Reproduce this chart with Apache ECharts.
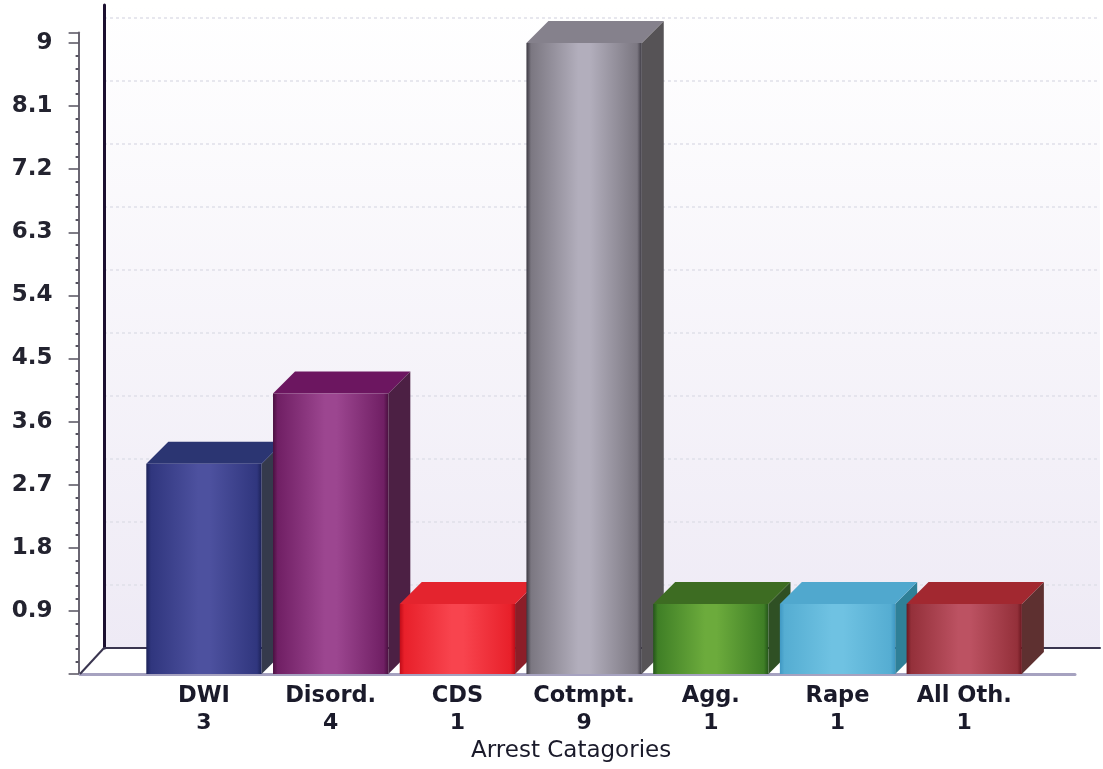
<!DOCTYPE html>
<html><head><meta charset="utf-8">
<style>html,body{margin:0;padding:0;background:#fff}#c{width:1103px;height:769px}</style>
<script src="https://cdn.jsdelivr.net/npm/echarts@6/dist/echarts.min.js"></script>
</head><body><div id="c"></div>
<script>
const categories = ['DWI','Disord.','CDS','Cotmpt.','Agg.','Rape','All Oth.'];
const values = [3,4,1,9,1,1,1];
const frontDark = ['#1c2258','#4a1040','#c00c18','#3c3942','#24541a','#3f98c4','#6a1820'];
const frontEdge = ['#30367e','#701f64','#e8202a','#7b7781','#3f7f26','#55add2','#94303a'];
const frontMid  = ['#4d519f','#9c4690','#f8444e','#b2aebc','#6cab3c','#6fc2e2','#bc5262'];
const topColors = ['#2b3572','#6c1660','#e4242e','#85818c','#3d6c22','#50a8ce','#a22830'];
const sideColors= ['#353a4c','#4c2044','#8c1e28','#565356','#2f5024','#2f8098','#5e3030'];
const depthX = 22, depthY = 22;
const fontFamily = '"DejaVu Sans", Verdana, sans-serif';

const chart = echarts.init(document.getElementById('c'), null, {renderer:'canvas'});

function renderBar(params, api){
  const i = api.value(0), v = api.value(1);
  const top = api.coord([i, v]);
  const base = api.coord([i, 0]);
  const w = api.size([1,0])[0] * 0.91;
  const x0 = top[0] - w/2, x1 = top[0] + w/2, y0 = top[1], y1 = base[1];
  const front = new echarts.graphic.LinearGradient(0,0,1,0,[
    {offset:0,color:frontDark[i]},{offset:0.04,color:frontEdge[i]},
    {offset:0.45,color:frontMid[i]},{offset:0.55,color:frontMid[i]},
    {offset:0.96,color:frontEdge[i]},{offset:1,color:frontDark[i]}]);
  return {type:'group',children:[
    {type:'polygon',shape:{points:[[x1,y0],[x1+depthX,y0-depthY],[x1+depthX,y1-depthY],[x1,y1]]},style:{fill:sideColors[i]}},
    {type:'polygon',shape:{points:[[x0,y0],[x0+depthX,y0-depthY],[x1+depthX,y0-depthY],[x1,y0]]},style:{fill:topColors[i]}},
    {type:'rect',shape:{x:x0,y:y0,width:w,height:y1-y0},style:{fill:front}}
  ]};
}

chart.setOption({
  animation:false,
  backgroundColor:'#fff',
  grid:[
    {left:140.6,width:887,top:32.5,bottom:95,containLabel:false},
    {left:104,right:3,top:5,bottom:121,show:true,borderWidth:0,
      backgroundColor:new echarts.graphic.LinearGradient(0,0,0,1,[{offset:0,color:'#ffffff'},{offset:1,color:'#eeeaf5'}])},
    {left:80,right:28,top:32.5,bottom:95}
  ],
  xAxis:[
    {type:'category',gridIndex:0,data:categories,axisLine:{show:false},axisTick:{show:false},
      axisLabel:{margin:9,interval:0,color:'#1a1a2a',
        formatter:(n,i)=>`{a|${n}}\n{b|${values[i]}}`,
        rich:{a:{fontFamily,fontWeight:'bold',fontSize:22.5,lineHeight:27,color:'#1a1a2a'},
              b:{fontFamily,fontWeight:'bold',fontSize:22,lineHeight:26,color:'#1a1a2a'}}},
      name:'Arrest Catagories',nameLocation:'middle',nameGap:66,
      nameTextStyle:{fontFamily,fontSize:23,color:'#1a1a2a',padding:[0,26,0,0]}},
    {type:'value',gridIndex:1,min:0,max:1,axisLabel:{show:false},axisTick:{show:false},splitLine:{show:false},
      axisLine:{show:true,lineStyle:{color:'#3a3550',width:2}}},
    {type:'value',gridIndex:2,min:0,max:1,axisLabel:{show:false},axisTick:{show:false},splitLine:{show:false},
      axisLine:{show:true,lineStyle:{color:'#a6a2c0',width:3}}}
  ],
  yAxis:[
    {type:'value',gridIndex:0,min:0,max:9.15,interval:0.9,offset:62,
      axisLine:{show:true,lineStyle:{color:'#6a6672',width:2}},
      axisTick:{show:true,length:10,lineStyle:{color:'#55525f',width:1.5}},
      minorTick:{show:true,splitNumber:5,length:3,lineStyle:{color:'#55525f',width:2}},
      splitLine:{show:false},
      axisLabel:{showMaxLabel:false,showMinLabel:false,margin:26,fontFamily,fontWeight:'bold',fontSize:23,color:'#23232f',
        formatter:v=>String(+v.toFixed(1))}},
    {type:'value',gridIndex:1,min:0,max:9.188,interval:0.9,
      axisLabel:{show:false},axisTick:{show:false},
      axisLine:{show:true,lineStyle:{color:'#1c1030',width:3}},
      splitLine:{show:true,showMinLine:false,showMaxLine:false,lineStyle:{color:'#e0dfe9',width:1.5,type:[3,3]}}},
    {type:'value',gridIndex:2,min:0,max:1,show:false}
  ],
  series:[{
    type:'custom',xAxisIndex:0,yAxisIndex:0,coordinateSystem:'cartesian2d',clip:false,z:5,
    renderItem:renderBar,encode:{x:0,y:1},
    data:values.map((v,i)=>[i,v])
  }],
  graphic:[{type:'line',z:1,shape:{x1:80,y1:674,x2:104,y2:648},style:{stroke:'#3a3550',lineWidth:2}}]
});
</script></body></html>
